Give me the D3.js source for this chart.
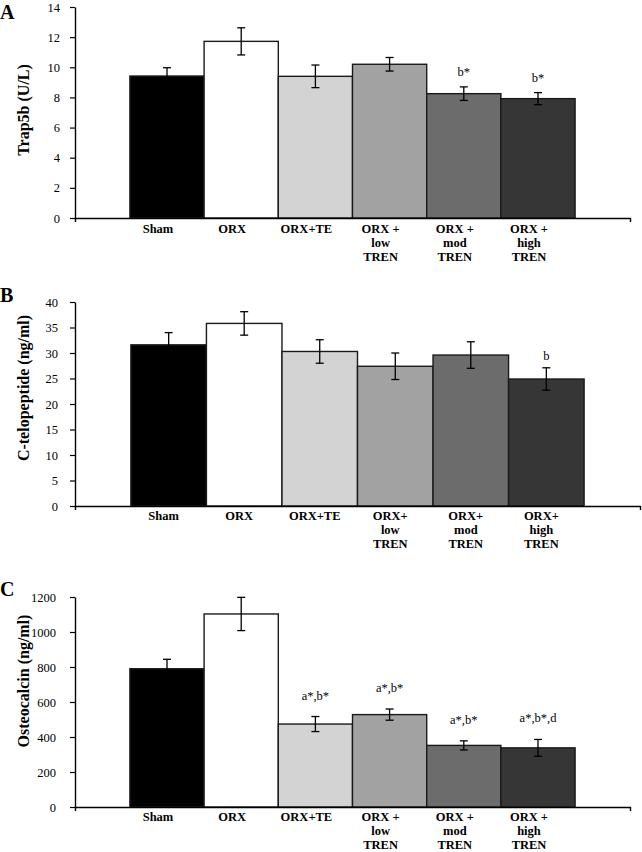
<!DOCTYPE html>
<html lang="en">
<head>
<meta charset="UTF-8">
<title>Trap5b, C-telopeptide, Osteocalcin</title>
<script src="https://d3js.org/d3.v7.min.js"></script>
<style>
  body { margin: 0; background: #fff; }
  text { font-family: "Liberation Serif", "Times New Roman", serif; fill: #000; }
</style>
</head>
<body>
<div id="chart"></div>
<script>
// groups
var groups = ["Sham", "ORX", "ORX+TE", "low", "mod", "high"];
var barColors = ["#000000", "#ffffff", "#d3d3d3", "#a2a2a2", "#6c6c6c", "#363636"];

// x tick labels (multi line)
var labelsA = [["Sham"], ["ORX"], ["ORX+TE"], ["ORX +", "low", "TREN"], ["ORX +", "mod", "TREN"], ["ORX +", "high", "TREN"]];
var labelsB = [["Sham"], ["ORX"], ["ORX+TE"], ["ORX+", "low", "TREN"], ["ORX+", "mod", "TREN"], ["ORX+", "high", "TREN"]];

// A: Trap5b (U/L)
var trapMean = [9.42, 11.72, 9.40, 10.20, 8.25, 7.92];
var trapErr  = [0.55, 0.90, 0.75, 0.45, 0.45, 0.40];
var trapSig  = ["", "", "", "", "b*", "b*"];
var trapTicks = [0, 2, 4, 6, 8, 10, 12, 14];

// B: C-telopeptide (ng/ml)
var ctxMean = [31.6, 35.8, 30.3, 27.4, 29.6, 24.9];
var ctxErr  = [2.4, 2.3, 2.3, 2.6, 2.6, 2.2];
var ctxSig  = ["", "", "", "", "", "b"];
var ctxTicks = [0, 5, 10, 15, 20, 25, 30, 35, 40];

// C: Osteocalcin (ng/ml)
var ocMean = [790, 1103, 474, 528, 352, 338];
var ocErr  = [54, 95, 43, 32, 26, 48];
var ocSig  = ["", "", "a*,b*", "a*,b*", "a*,b*", "a*,b*,d"];
var ocTicks = [0, 200, 400, 600, 800, 1000, 1200];

var svg = d3.select("#chart").append("svg")
    .attr("width", 642)
    .attr("height", 852);

function drawPanel(p) {
    var g = svg.append("g");

    var x = d3.scaleBand()
        .domain(groups)
        .range([75, p.right])
        .paddingInner(0)
        .paddingOuter(0.74);

    var y = d3.scaleLinear()
        .domain([0, d3.max(p.ticks)])
        .range([p.bottom, p.top]);

    var rows = groups.map(function(d, i) {
        return {group: d, mean: p.mean[i], err: p.err[i], sig: p.sig[i], color: barColors[i], label: p.labels[i]};
    });

    // bars
    g.selectAll("rect.bar")
        .data(rows)
        .enter()
        .append("rect")
        .attr("class", "bar")
        .attr("x", function(d) { return x(d.group); })
        .attr("y", function(d) { return y(d.mean); })
        .attr("width", x.bandwidth())
        .attr("height", function(d) { return y(0) - y(d.mean); })
        .attr("fill", function(d) { return d.color; })
        .attr("stroke", "#1a1a1a")
        .attr("stroke-width", 1.4);

    // error bars
    var cap = 4;
    var eb = g.selectAll("g.err")
        .data(rows)
        .enter()
        .append("g")
        .attr("class", "err")
        .attr("stroke", "#000")
        .attr("stroke-width", 1.3);
    eb.append("line")
        .attr("x1", function(d) { return x(d.group) + x.bandwidth() / 2; })
        .attr("x2", function(d) { return x(d.group) + x.bandwidth() / 2; })
        .attr("y1", function(d) { return y(d.mean + d.err); })
        .attr("y2", function(d) { return y(d.mean - d.err); });
    eb.append("line")
        .attr("x1", function(d) { return x(d.group) + x.bandwidth() / 2 - cap; })
        .attr("x2", function(d) { return x(d.group) + x.bandwidth() / 2 + cap; })
        .attr("y1", function(d) { return y(d.mean + d.err); })
        .attr("y2", function(d) { return y(d.mean + d.err); });
    eb.append("line")
        .attr("x1", function(d) { return x(d.group) + x.bandwidth() / 2 - cap; })
        .attr("x2", function(d) { return x(d.group) + x.bandwidth() / 2 + cap; })
        .attr("y1", function(d) { return y(d.mean - d.err); })
        .attr("y2", function(d) { return y(d.mean - d.err); });

    // significance letters
    g.selectAll("text.sig")
        .data(rows.filter(function(d) { return d.sig; }))
        .enter()
        .append("text")
        .attr("class", "sig")
        .attr("x", function(d) { return x(d.group) + x.bandwidth() / 2; })
        .attr("y", function(d) { return y(d.mean + d.err) - p.sigGap; })
        .attr("text-anchor", "middle")
        .style("font-size", "12.5px")
        .text(function(d) { return d.sig; });

    // y axis
    var yAxis = g.append("g")
        .attr("transform", "translate(75,0)")
        .call(d3.axisLeft(y).tickValues(p.ticks).tickFormat(d3.format("d"))
            .tickSizeInner(5).tickSizeOuter(0).tickPadding(p.tickPad));
    yAxis.attr("font-family", "'Liberation Serif', serif").attr("font-size", 12.5);
    yAxis.select(".domain").attr("stroke", "#000").attr("stroke-width", 1.4);
    yAxis.selectAll(".tick line").attr("stroke", "#000").attr("stroke-width", 1.2);
    yAxis.selectAll(".tick text")
        .style("font-family", "'Liberation Serif', serif")
        .style("font-size", "12.5px")
        .attr("fill", "#000");

    // x axis (line only, end ticks)
    var xAxis = g.append("g")
        .attr("transform", "translate(0," + p.bottom + ")")
        .call(d3.axisBottom(x).tickValues([]).tickSizeOuter(4));
    xAxis.select(".domain").attr("stroke", "#000").attr("stroke-width", 1.4);

    // category labels
    var lab = g.selectAll("text.cat")
        .data(rows)
        .enter()
        .append("text")
        .attr("class", "cat")
        .attr("text-anchor", "middle")
        .style("font-size", "12.5px")
        .style("font-weight", "bold")
        .attr("y", p.bottom + p.labelDy);
    lab.selectAll("tspan")
        .data(function(d) { return d.label.map(function(t) { return {t: t, group: d.group}; }); })
        .enter()
        .append("tspan")
        .attr("x", function(d) { return x(d.group) + x.bandwidth() / 2 + p.labelDx; })
        .attr("dy", function(d, i) { return i === 0 ? 0 : 14; })
        .text(function(d) { return d.t; });

    // y axis title
    g.append("text")
        .attr("transform", "translate(" + 29 + "," + p.titleY + ") rotate(-90)")
        .attr("text-anchor", "middle")
        .style("font-size", "16px")
        .style("font-weight", "bold")
        .text(p.title);

    // panel letter
    g.append("text")
        .attr("x", 0)
        .attr("y", p.letterY)
        .style("font-size", "20px")
        .style("font-weight", "bold")
        .text(p.letter);
}

drawPanel({letter: "A", letterY: 19, title: "Trap5b (U/L)", titleY: 110,
    mean: trapMean, err: trapErr, sig: trapSig, ticks: trapTicks, labels: labelsA,
    top: 7, bottom: 218, right: 630, tickPad: 10, sigGap: 11, labelDx: -9, labelDy: 15});

drawPanel({letter: "B", letterY: 302, title: "C-telopeptide (ng/ml)", titleY: 388,
    mean: ctxMean, err: ctxErr, sig: ctxSig, ticks: ctxTicks, labels: labelsB,
    top: 302, bottom: 506, right: 640, tickPad: 12, sigGap: 8, labelDx: -5, labelDy: 14});

drawPanel({letter: "C", letterY: 596, title: "Osteocalcin (ng/ml)", titleY: 681,
    mean: ocMean, err: ocErr, sig: ocSig, ticks: ocTicks, labels: labelsA,
    top: 597, bottom: 807, right: 630, tickPad: 14, sigGap: 17, labelDx: -9, labelDy: 14});
</script>
</body>
</html>
